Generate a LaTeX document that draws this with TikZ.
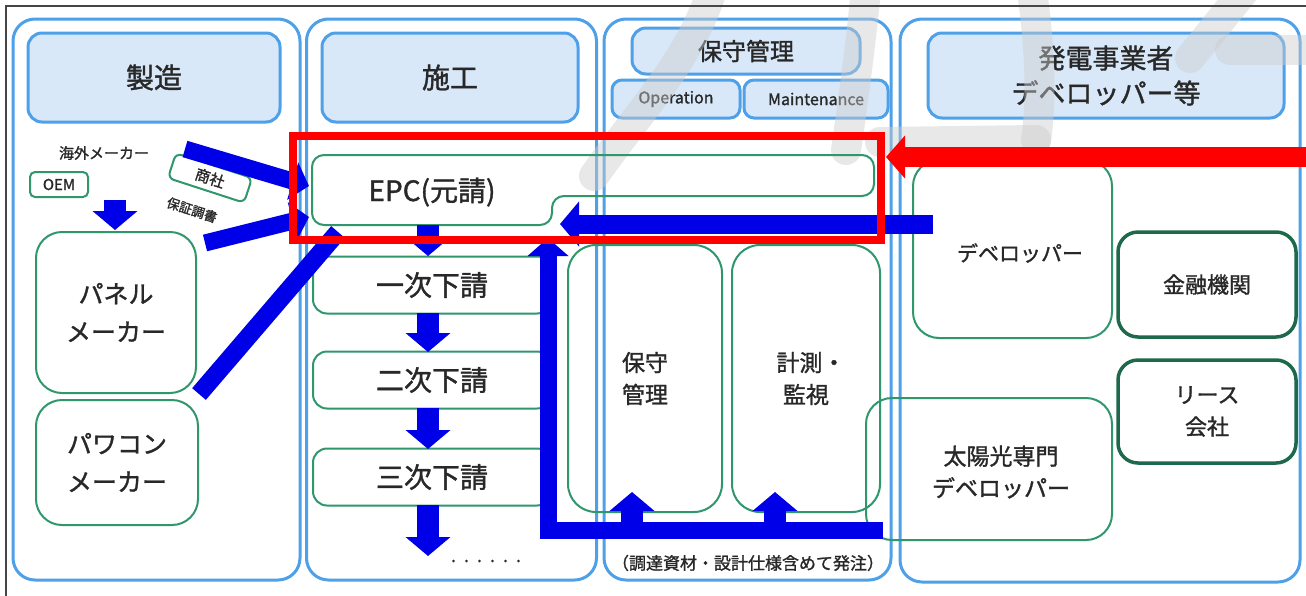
\documentclass[tikz,border=0pt]{standalone}
\usepackage{fontspec}
\setmainfont{Noto Sans CJK JP}[FakeBold=1.3]
\usetikzlibrary{arrows.meta}
\definecolor{colblue}{RGB}{78,160,232}
\definecolor{hdrfill}{RGB}{216,232,248}
\definecolor{grn}{RGB}{48,150,108}
\definecolor{dkgrn}{RGB}{30,105,75}
\definecolor{ablue}{RGB}{0,0,232}
\definecolor{rred}{RGB}{255,0,0}
\definecolor{txt}{RGB}{40,40,40}
\definecolor{frm}{RGB}{70,70,70}
\definecolor{wm}{RGB}{205,205,205}
\tikzset{
  col/.style={draw=colblue, line width=3pt, rounded corners=22pt, inner sep=0pt},
  hdr/.style={draw=colblue, line width=3pt, fill=hdrfill, rounded corners=14pt, inner sep=0pt, text=txt, align=center},
  gbox/.style={draw=grn, line width=2pt, rounded corners=20pt, inner sep=0pt, text=txt, align=center},
  dbox/.style={draw=dkgrn, line width=3.5pt, rounded corners=20pt, inner sep=0pt, text=txt, align=center},
  lbl/.style={text=txt, inner sep=0pt, align=center},
  fat/.style={draw=ablue, line width=#1},
  fat/.default=20pt,
  bigtip/.style={-{Triangle[width=44pt,length=19pt]}},
  midtip/.style={-{Triangle[width=38pt,length=17pt]}},
  wmark/.style={draw=wm, line width=30pt, line cap=round, opacity=0.45},
}
\newcommand{\fs}[2]{\fontsize{#1}{#2}\selectfont}
\begin{document}
\begin{tikzpicture}[x=1pt,y=-1pt]
\useasboundingbox (0,0) rectangle (1306,595);
\fill[white] (0,0) rectangle (1306,595);

% columns
\node[col, minimum width=287pt, minimum height=561pt] (c1) at (156.5,299.5) {};
\node[col, minimum width=290pt, minimum height=561pt] (c2) at (451.5,299.5) {};
\node[col, minimum width=287pt, minimum height=561pt] (c3) at (747.5,299.5) {};
\node[col, minimum width=400pt, minimum height=563pt] (c4) at (1100,300.5) {};

% headers
\node[hdr, minimum width=252pt, minimum height=89pt, font=\fs{28}{32}] (h1) at (154,77.5) {製造};
\node[hdr, minimum width=256pt, minimum height=89pt, font=\fs{28}{32}] (h2) at (450,77.5) {施工};
\node[hdr, minimum width=228pt, minimum height=46pt, font=\fs{24}{28}] (h3) at (746,51) {保守管理};
\node[hdr, minimum width=128pt, minimum height=38pt, rounded corners=10pt, font=\fs{16}{18}] (hop) at (676,99) {Operation};
\node[hdr, minimum width=144pt, minimum height=38pt, rounded corners=10pt, font=\fs{16}{18}] (hmt) at (816,99) {Maintenance};
\node[hdr, minimum width=356pt, minimum height=85pt, font=\fs{27}{35}] (h4) at (1106,75.5) {発電事業者\\デベロッパー等};

% watermark
\draw[wmark] (594,176) .. controls (640,110) and (690,60) .. (712,-10);
\draw[wmark] (866,-10) .. controls (860,50) and (852,110) .. (846,150);
\draw[wmark] (1032,-10) .. controls (1040,50) and (1042,100) .. (1036,140);
\draw[wmark] (880,142) -- (1036,140);
\draw[wmark] (1245,-10) -- (1190,58);
\draw[wmark] (1230,50) -- (1320,50);

% frame
\draw[frm, line width=1.8pt] (6,600) -- (6,6) -- (1310,6);

% column 1
\node[lbl, font=\fs{15}{18}] (kaigai) at (104,153) {海外メーカー};
\node[gbox, rounded corners=5pt, minimum width=58pt, minimum height=25pt, font=\fs{15}{16}] (oem) at (59,184.5) {OEM};
\node[gbox, rounded corners=6pt, minimum width=80pt, minimum height=26pt, rotate=-18, font=\fs{15}{16}] (shosha) at (210,178) {商社};
\node[lbl, rotate=-18, font=\fs{13}{14}] (hosho) at (192,210) {保証調書};
\node[gbox, minimum width=160pt, minimum height=161pt, rounded corners=26pt, font=\fs{25}{38}] (panel) at (116,312.5) {パネル\\メーカー};
\node[gbox, minimum width=162pt, minimum height=125pt, rounded corners=26pt, font=\fs{25}{38}] (pcs) at (117,462.5) {パワコン\\メーカー};

% column 2
\draw[grn, line width=2pt, rounded corners=12pt] (312,155) -- (874,155) -- (874,196) -- (552,196) -- (552,225) -- (312,225) -- cycle;
\node[lbl, font=\fs{28}{30}] (epc) at (432,192) {EPC(元請)};
\node[gbox, rounded corners=14pt, minimum width=238pt, minimum height=57pt, font=\fs{28}{32}] (sub1) at (432,285) {一次下請};
\node[gbox, rounded corners=14pt, minimum width=238pt, minimum height=57pt, font=\fs{28}{32}] (sub2) at (432,380) {二次下請};
\node[gbox, rounded corners=14pt, minimum width=238pt, minimum height=57pt, font=\fs{28}{32}] (sub3) at (432,477) {三次下請};
\node[lbl, font=\fs{18}{18}] (dots) at (486,561) {.\hspace{8pt}.\hspace{8pt}.\hspace{8pt}.\hspace{8pt}.\hspace{8pt}.};

% column 3
\node[gbox, minimum width=154pt, minimum height=267pt, rounded corners=28pt, font=\fs{23}{32}] (hoshu) at (645,378.5) {保守\\管理};
\node[gbox, minimum width=148pt, minimum height=267pt, rounded corners=28pt, font=\fs{23}{32}] (keisoku) at (806,378.5) {\hspace*{10pt}計測・\\監視};
\node[lbl, font=\fs{17}{18}] (note) at (748,563) {（調達資材・設計仕様含めて発注）};

% column 4
\node[gbox, minimum width=199pt, minimum height=178pt, rounded corners=26pt] (dev) at (1012.5,249) {};
\node[lbl, font=\fs{21}{24}] (devt) at (1020,253) {デベロッパー};
\node[dbox, minimum width=178pt, minimum height=105pt, font=\fs{22}{26}] (kinyu) at (1207,284.5) {金融機関};
\node[dbox, minimum width=178pt, minimum height=103pt, font=\fs{22}{32}] (lease) at (1207,411.5) {リース\\会社};
\node[gbox, minimum width=246pt, minimum height=142pt, rounded corners=26pt] (taiyo) at (989,469) {};
\node[lbl, font=\fs{23}{32}] (taiyot) at (1001,472) {太陽光専門\\デベロッパー};

% blue arrows
\coordinate (a1s) at (185,149);
\coordinate (a2s) at (205,243);
\coordinate (epcL1) at (309,186);
\coordinate (epcL2) at (309,217);
\draw[fat=17pt, midtip] (a1s) -- (epcL1);
\draw[fat=17pt, midtip] (a2s) -- (epcL2);
\draw[fat=18pt] (pcs.north east) ++(0,-5) -- (338,232);
\draw[fat=22pt, bigtip] (oem.south -| 115,0) ++(0,2) -- (115,230);

\draw[fat=22pt, bigtip] (428,225) -- (428,256);
\draw[fat=22pt, bigtip] (428,313) -- (428,352);
\draw[fat=22pt, bigtip] (428,408) -- (428,449);
\draw[fat=22pt, bigtip] (428,505) -- (428,556);

\coordinate (ret) at (933,224);
\draw[fat=19pt, bigtip] (ret) -- (560,224);
\coordinate (bot) at (883,530);
\draw[fat=17pt, line join=miter, -{Triangle[width=40pt,length=18pt]}] (bot) -- (548,530) -- (548,238);
\draw[fat=22pt, bigtip] (632,530) -- (632,492);
\draw[fat=22pt, bigtip] (775,530) -- (775,492);

% red highlight
\draw[rred, line width=8pt] (293,136) rectangle (881,240);
\coordinate (redS) at (1306,157);
\draw[rred, line width=20pt, -{Triangle[width=42pt,length=19pt]}] (redS) -- (886,157);
\end{tikzpicture}
\end{document}
